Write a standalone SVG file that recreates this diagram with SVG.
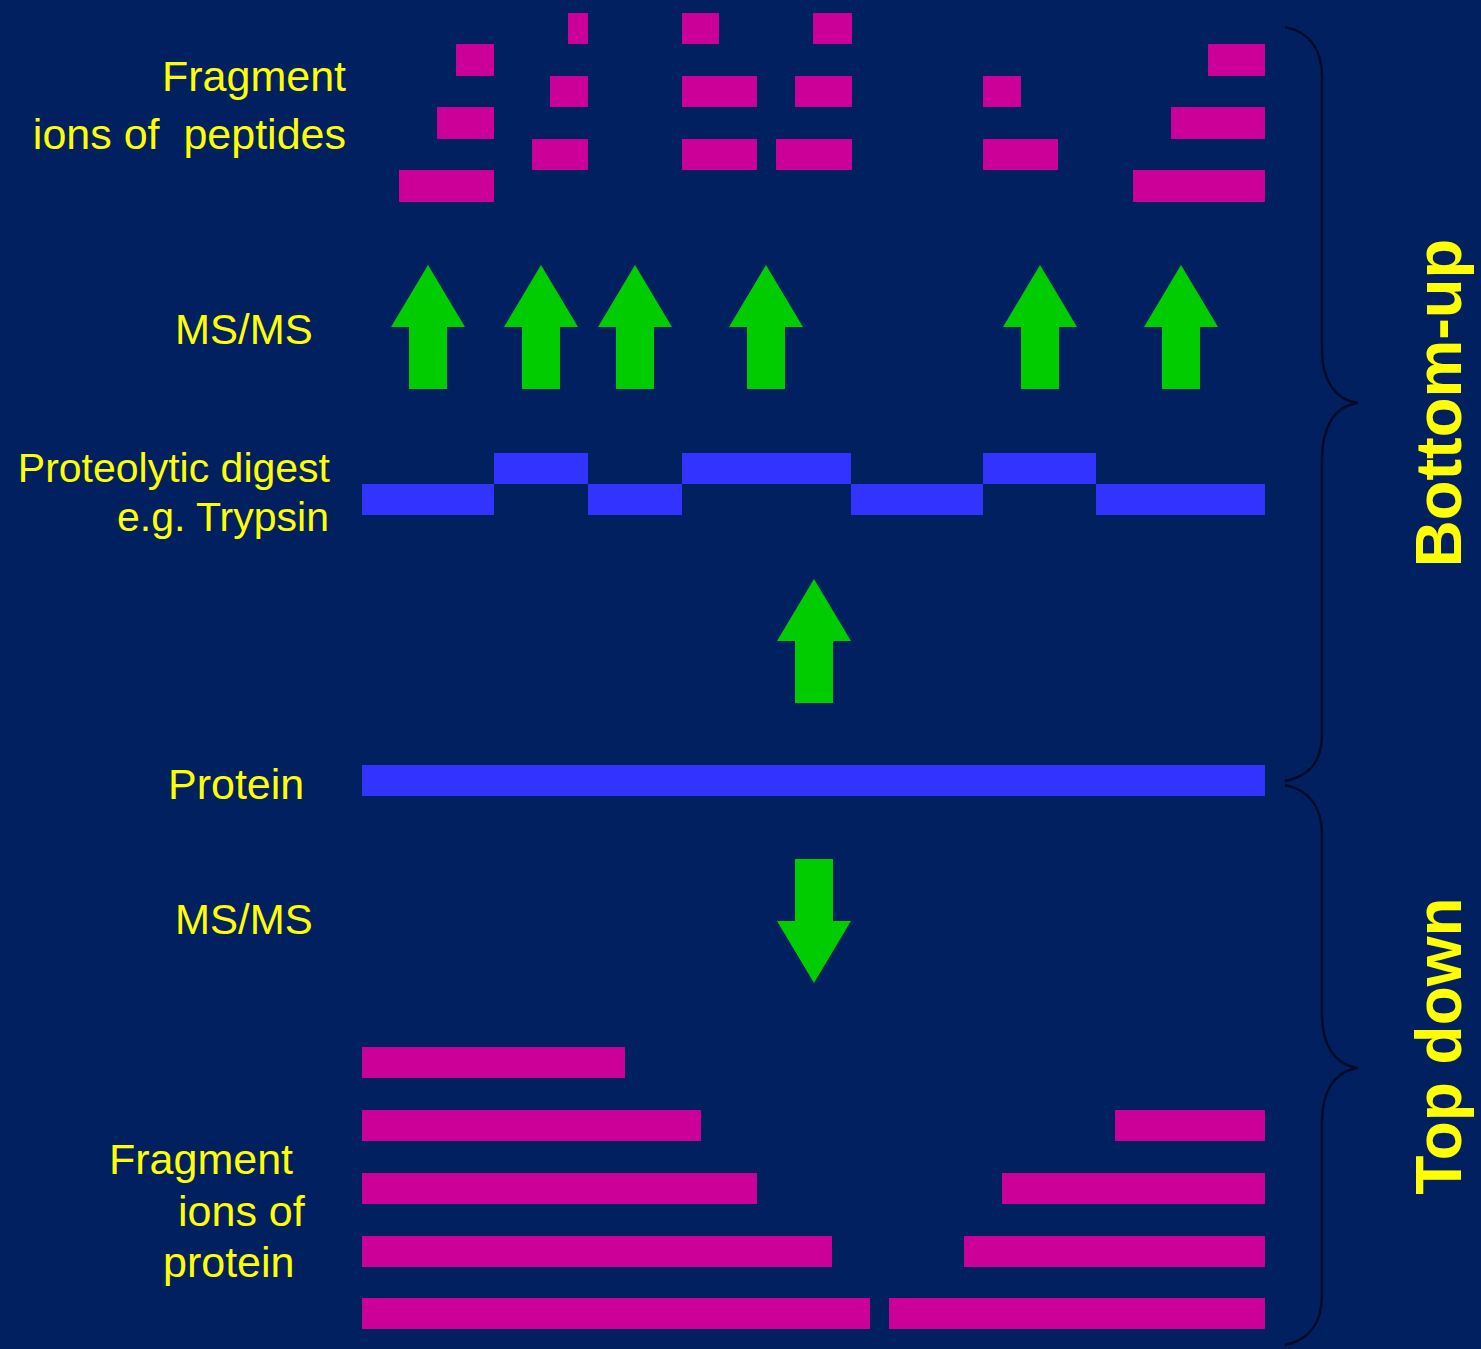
<svg xmlns="http://www.w3.org/2000/svg" width="1481" height="1349" viewBox="0 0 1481 1349">
<style>
.bg{fill:#002060}
.frag{fill:#CC0099}
.pep{fill:#3333FF}
.arr{fill:#00CC00}
.lbl{font-family:"Liberation Sans",Arial,sans-serif;font-size:43px;fill:#FFFF00;white-space:pre}
.sm{font-size:41px}
.ms{font-size:42px}
.big{font-family:"Liberation Sans",Arial,sans-serif;font-size:65px;font-weight:bold;fill:#FFFF00}
.td{font-size:64px}
.brace{fill:none;stroke:#000A28;stroke-width:2.5}
</style>
<defs>
<path id="up" d="M0,0 L37,62 L19,62 L19,124 L-19,124 L-19,62 L-37,62 Z"/>
</defs>
<rect class="bg" x="0" y="0" width="1481" height="1349"/>

<g id="peptide-fragments">
<rect class="frag" x="568" y="13" width="20" height="31"/>
<rect class="frag" x="682" y="13" width="37" height="31"/>
<rect class="frag" x="813" y="13" width="39" height="31"/>
<rect class="frag" x="456" y="44" width="38" height="32"/>
<rect class="frag" x="1208" y="44" width="57" height="32"/>
<rect class="frag" x="550" y="76" width="38" height="31"/>
<rect class="frag" x="682" y="76" width="75" height="31"/>
<rect class="frag" x="795" y="76" width="57" height="31"/>
<rect class="frag" x="983" y="76" width="38" height="31"/>
<rect class="frag" x="437" y="107" width="57" height="32"/>
<rect class="frag" x="1171" y="107" width="94" height="32"/>
<rect class="frag" x="532" y="139" width="56" height="31"/>
<rect class="frag" x="682" y="139" width="75" height="31"/>
<rect class="frag" x="776" y="139" width="76" height="31"/>
<rect class="frag" x="983" y="139" width="75" height="31"/>
<rect class="frag" x="399" y="170" width="95" height="32"/>
<rect class="frag" x="1133" y="170" width="132" height="32"/>
</g>

<g id="digest">
<rect class="pep" x="362" y="484" width="132" height="31"/>
<rect class="pep" x="494" y="453" width="94" height="31"/>
<rect class="pep" x="588" y="484" width="94" height="31"/>
<rect class="pep" x="682" y="453" width="169" height="31"/>
<rect class="pep" x="851" y="484" width="132" height="31"/>
<rect class="pep" x="983" y="453" width="113" height="31"/>
<rect class="pep" x="1096" y="484" width="169" height="31"/>
</g>

<g id="protein">
<rect class="pep" x="362" y="765" width="903" height="31"/>
</g>

<g id="protein-fragments">
<rect class="frag" x="362" y="1047" width="263" height="31"/>
<rect class="frag" x="362" y="1110" width="339" height="31"/>
<rect class="frag" x="1115" y="1110" width="150" height="31"/>
<rect class="frag" x="362" y="1173" width="395" height="31"/>
<rect class="frag" x="1002" y="1173" width="263" height="31"/>
<rect class="frag" x="362" y="1236" width="470" height="31"/>
<rect class="frag" x="964" y="1236" width="301" height="31"/>
<rect class="frag" x="362" y="1298" width="508" height="31"/>
<rect class="frag" x="889" y="1298" width="376" height="31"/>
</g>

<g id="connectors">
<use href="#up" class="arr" x="428" y="265"/>
<use href="#up" class="arr" x="541" y="265"/>
<use href="#up" class="arr" x="635" y="265"/>
<use href="#up" class="arr" x="766" y="265"/>
<use href="#up" class="arr" x="1040" y="265"/>
<use href="#up" class="arr" x="1181" y="265"/>
<use href="#up" class="arr" x="814" y="579"/>
<use href="#up" class="arr" transform="translate(814,983) scale(1,-1)"/>
<path class="brace" d="M1285,27 C1310,32 1322,50 1322,77 L1322,350 C1322,380 1335,400 1358,403 C1335,406 1322,426 1322,460 L1322,735 C1322,760 1310,776 1285,781"/>
<path class="brace" d="M1285,785 C1310,790 1322,808 1322,835 L1322,1015 C1322,1045 1335,1065 1358,1068 C1335,1071 1322,1091 1322,1121 L1322,1295 C1322,1322 1310,1340 1285,1345"/>
</g>

<g id="labels">
<text class="lbl" x="346" y="91" text-anchor="end">Fragment</text>
<text class="lbl" x="346" y="149" text-anchor="end">ions of  peptides</text>
<text class="lbl ms" x="175" y="344">MS/MS</text>
<text class="lbl sm" x="330" y="482" text-anchor="end">Proteolytic digest</text>
<text class="lbl sm" x="329" y="531" text-anchor="end">e.g. Trypsin</text>
<text class="lbl" x="168" y="799">Protein</text>
<text class="lbl ms" x="175" y="934">MS/MS</text>
<text class="lbl" x="109" y="1174">Fragment</text>
<text class="lbl" x="178" y="1226">ions of</text>
<text class="lbl" x="163" y="1277">protein</text>
<text class="big" text-anchor="middle" transform="translate(1461,403) rotate(-90)">Bottom-up</text>
<text class="big td" text-anchor="middle" transform="translate(1461,1046) rotate(-90)">Top down</text>
</g>
</svg>
